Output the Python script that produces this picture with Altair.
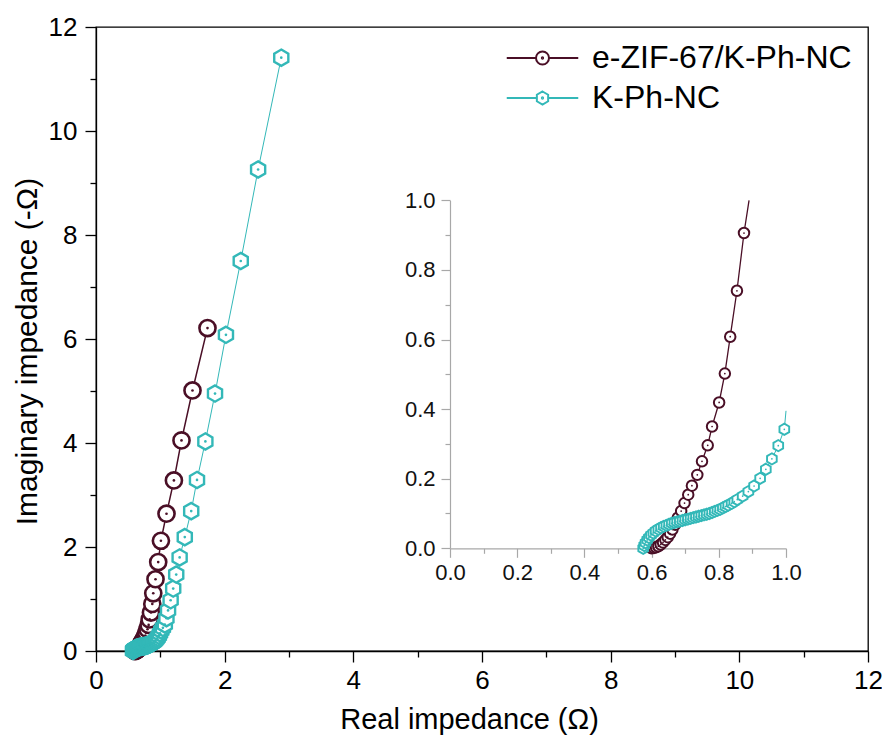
import altair as alt
import pandas as pd

# ---------------- data ----------------
series_names = ["e-ZIF-67/K-Ph-NC", "K-Ph-NC"]
series_colors = ["#4a0f26", "#33b8b8"]

ezif_x = [0.600, 0.607, 0.613, 0.620, 0.627, 0.634,
          0.641, 0.648, 0.655, 0.662, 0.670, 0.678,
          0.688, 0.698, 0.709, 0.720, 0.736, 0.750,
          0.767, 0.780, 0.801, 0.818, 0.834, 0.854,
          0.875, 0.890, 0.925, 0.967, 1.009, 1.096,
          1.211, 1.329, 1.500, 1.733]
ezif_y = [0.000, 0.001, 0.003, 0.006, 0.011, 0.017,
          0.024, 0.032, 0.042, 0.054, 0.068, 0.088,
          0.107, 0.130, 0.154, 0.180, 0.211, 0.250,
          0.296, 0.350, 0.419, 0.502, 0.608, 0.740,
          0.906, 1.110, 1.380, 1.710, 2.120, 2.640,
          3.280, 4.050, 5.010, 6.210]

kph_x = [0.575, 0.578, 0.582, 0.587, 0.592, 0.598,
         0.605, 0.612, 0.620, 0.628, 0.636, 0.644,
         0.652, 0.660, 0.668, 0.676, 0.684, 0.692,
         0.700, 0.708, 0.716, 0.724, 0.732, 0.740,
         0.748, 0.756, 0.764, 0.772, 0.780, 0.788,
         0.796, 0.804, 0.812, 0.820, 0.828, 0.838,
         0.846, 0.855, 0.871, 0.888, 0.905, 0.923,
         0.940, 0.958, 0.977, 0.995, 1.015, 1.040,
         1.070, 1.095, 1.120, 1.160, 1.200, 1.247,
         1.300, 1.380, 1.480, 1.570, 1.700, 1.850,
         2.020, 2.250, 2.520, 2.880]
kph_y = [0.000, 0.008, 0.016, 0.024, 0.031, 0.038,
         0.044, 0.050, 0.055, 0.059, 0.063, 0.066,
         0.069, 0.072, 0.074, 0.076, 0.078, 0.080,
         0.082, 0.084, 0.086, 0.088, 0.090, 0.092,
         0.094, 0.096, 0.098, 0.100, 0.103, 0.106,
         0.109, 0.112, 0.116, 0.120, 0.124, 0.129,
         0.134, 0.140, 0.150, 0.163, 0.179, 0.201,
         0.227, 0.257, 0.295, 0.342, 0.395, 0.445,
         0.510, 0.630, 0.780, 0.975, 1.200, 1.470,
         1.800, 2.190, 2.690, 3.290, 4.030, 4.950,
         6.080, 7.500, 9.260, 11.410]

main_ticks = [0, 1, 2, 3, 4, 5, 6, 7, 8, 9, 10, 11, 12]
inset_ticks = [0.0, 0.1, 0.2, 0.3, 0.4, 0.5, 0.6, 0.7, 0.8, 0.9, 1.0]

assert len(ezif_x) == len(ezif_y) and len(kph_x) == len(kph_y)

rows = []
for name, xs, ys in ((series_names[0], ezif_x, ezif_y),
                     (series_names[1], kph_x, kph_y)):
    for i, (a, b) in enumerate(zip(xs, ys)):
        rows.append({"series": name, "idx": i, "x": a, "y": b})
df = pd.DataFrame(rows)

# ---------------- layout ----------------
FONT = "Liberation Sans"
W, H = 772, 624
INSET_X = [354.0, 690.0]
INSET_Y = [521.3, 173.3]

HEX = "M0,-1L0.866,-0.5L0.866,0.5L0,1L-0.866,0.5L-0.866,-0.5Z"
LEG_CIRCLE = ("M-5.5,0L-1,0M1,0L5.5,0M-1,0A1,1 0 1,1 1,0A1,1 0 1,1 -1,0Z"
              "M-0.1,0A0.1,0.1 0 1,1 0.1,0A0.1,0.1 0 1,1 -0.1,0Z")
LEG_HEX = ("M-5.5,0L-0.866,0M0.866,0L5.5,0"
           "M0,-1L0.866,-0.5L0.866,0.5L0,1L-0.866,0.5L-0.866,-0.5Z"
           "M-0.1,0A0.1,0.1 0 1,1 0.1,0A0.1,0.1 0 1,1 -0.1,0Z")


def tick_size(major, minor, test):
    return {"condition": {"test": test, "value": minor}, "value": major}


main_x_axis = alt.Axis(
    values=main_ticks, title="Real impedance (Ω)",
    labelExpr="datum.value % 2 == 0 ? datum.label : ''",
    tickSize=tick_size(11, 6, "datum.value % 2 != 0"),
    labelFlush=False, labelPadding=5, titlePadding=12, titleX=373,
    titleFontSize=29, grid=False)
main_y_axis = alt.Axis(
    values=main_ticks, title="Imaginary impedance (-Ω)",
    labelExpr="datum.value % 2 == 0 ? datum.label : ''",
    tickSize=tick_size(11, 6, "datum.value % 2 != 0"),
    labelPadding=8, titlePadding=6, titleY=324, titleFontSize=30,
    grid=False)

MX = alt.X("x:Q", scale=alt.Scale(domain=[0, 12], nice=False, zero=False),
           axis=main_x_axis)
MY = alt.Y("y:Q", scale=alt.Scale(domain=[0, 12], nice=False, zero=False),
           axis=main_y_axis)

inset_common = dict(values=inset_ticks, format=".1f",
                    labelExpr="round(datum.value * 10) % 2 == 0 ? datum.label : ''",
                    tickSize=tick_size(9, 5, "round(datum.value * 10) % 2 != 0"),
                    domainColor="#a8a8a8", tickColor="#a8a8a8",
                    domainWidth=1.2, tickWidth=1.2,
                    labelFontSize=22, labelColor="#111111",
                    title=None, grid=False)
inset_x_axis = alt.Axis(orient="bottom", offset=-(H - INSET_Y[0]),
                        labelFlush=False, labelPadding=5, **inset_common)
inset_y_axis = alt.Axis(orient="left", offset=-INSET_X[0], labelPadding=6,
                        **inset_common)

IX = alt.X("x:Q", scale=alt.Scale(domain=[0, 1], range=INSET_X, clamp=True,
                                  nice=False, zero=False), axis=inset_x_axis)
IY = alt.Y("y:Q", scale=alt.Scale(domain=[0, 1], range=INSET_Y, clamp=True,
                                  nice=False, zero=False), axis=inset_y_axis)

main_style = {
    series_names[0]: dict(shape="circle", size=260, sw=2.6, lw=1.5, dot=7),
    series_names[1]: dict(shape=HEX, size=265, sw=2.4, lw=1.0, dot=7),
}
inset_style = {
    series_names[0]: dict(shape="circle", size=110, sw=2.0, lw=1.3, dot=3),
    series_names[1]: dict(shape=HEX, size=125, sw=1.9, lw=1.0, dot=3),
}


def series_layers(X, Y, styles, point_filter=None, line_filter=None):
    out = []
    for name, color in zip(series_names, series_colors):
        st = styles[name]
        base = alt.Chart(df).transform_filter(alt.datum.series == name)
        lb = base.transform_filter(line_filter) if line_filter else base
        pb = base.transform_filter(point_filter) if point_filter else base
        out.append(lb.mark_line(color=color, strokeWidth=st["lw"]).encode(
            x=X, y=Y, order="idx:Q"))
        out.append(pb.mark_point(shape=st["shape"], size=st["size"], filled=True,
                                 fill="white", stroke=color, strokeWidth=st["sw"],
                                 opacity=1).encode(x=X, y=Y))
        out.append(pb.mark_point(shape="circle", size=st["dot"], filled=True,
                                 color=color, opacity=1, strokeWidth=0).encode(
            x=X, y=Y))
    return out


legend = alt.Legend(title=None, orient="none", legendX=430.5, legendY=15,
                    labelFont=FONT, labelFontSize=32, labelColor="#000000",
                    labelLimit=500,
                    symbolSize=169, symbolStrokeWidth=2, symbolOpacity=1,
                    symbolFillColor="transparent", labelOffset=33.5,
                    rowPadding=8, padding=0)

legend_layer = alt.Chart(df).transform_filter("false").mark_point(
    filled=False, strokeWidth=2, opacity=1).encode(
    x=MX, y=MY,
    shape=alt.Shape("series:N", scale=alt.Scale(domain=series_names,
                                                range=[LEG_CIRCLE, LEG_HEX]),
                    legend=legend),
    stroke=alt.Stroke("series:N", scale=alt.Scale(domain=series_names,
                                                  range=series_colors),
                      legend=legend),
)

main_group = alt.layer(*series_layers(MX, MY, main_style), legend_layer)
inset_group = alt.layer(*series_layers(
    IX, IY, inset_style,
    point_filter="datum.x <= 1 && datum.y <= 1",
    line_filter="datum.x <= 1.02 && datum.y <= 1.2"))

chart = alt.layer(main_group, inset_group).resolve_scale(
    x="independent", y="independent"
).properties(
    width=W, height=H,
    autosize=alt.AutoSizeParams(type="none"),
    padding={"left": 88, "top": 19, "right": 14, "bottom": 85},
    background="white",
).configure_view(
    stroke="#000000", strokeWidth=1.3
).configure_axis(
    domainColor="#000000", domainWidth=1.3, tickColor="#000000", tickWidth=1.3,
    labelFont=FONT, labelFontSize=26, labelColor="#000000",
    titleFont=FONT, titleFontSize=29, titleColor="#000000",
    titleFontWeight="normal",
)

chart.save("out.html", embed_options={"renderer": "svg", "actions": False})
